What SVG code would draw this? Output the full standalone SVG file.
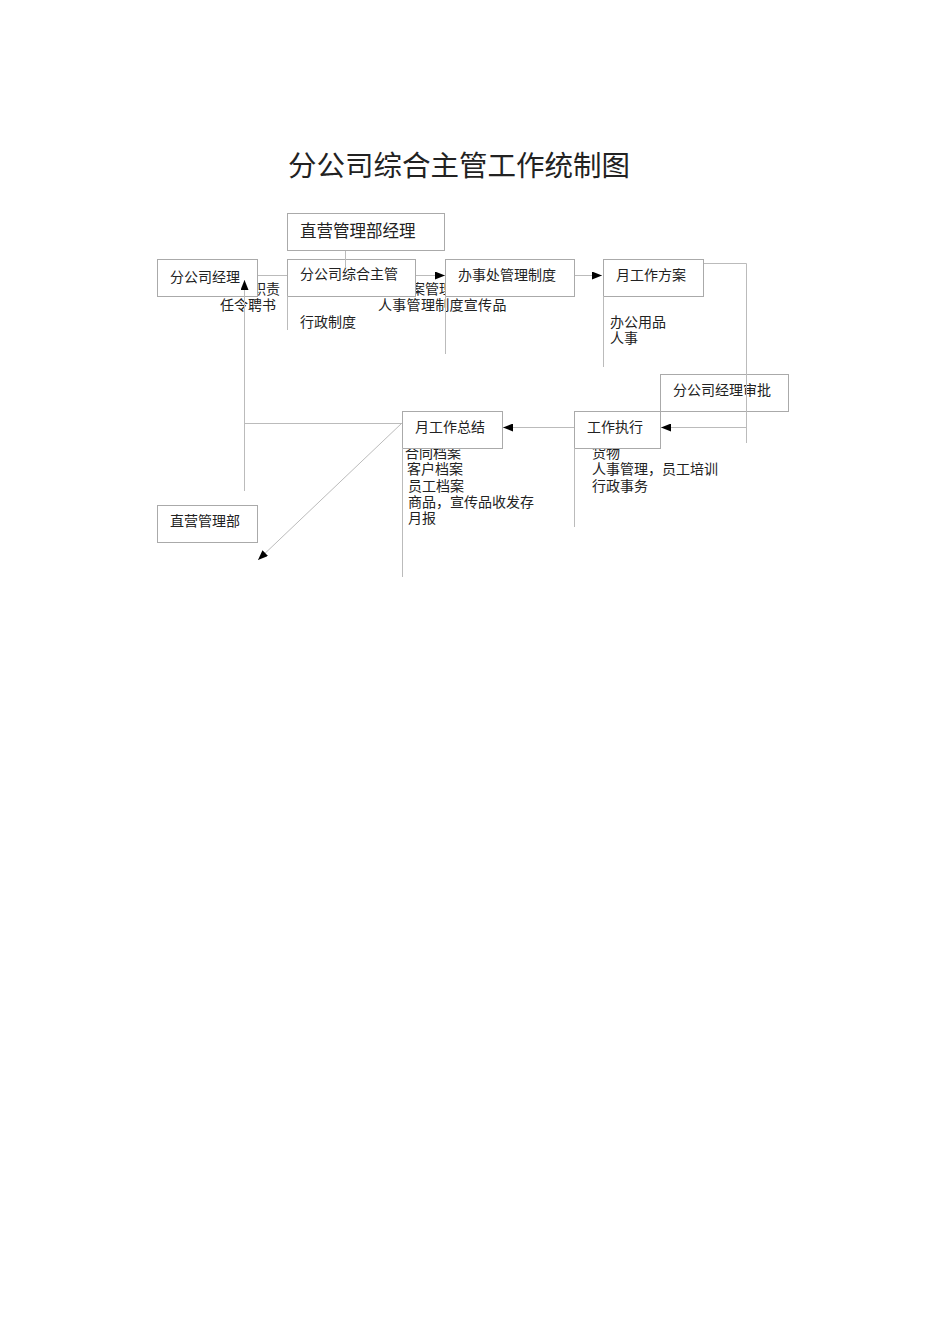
<svg xmlns="http://www.w3.org/2000/svg" width="950" height="1344" viewBox="0 0 950 1344">
<style>
text{font-family:"Noto Sans CJK SC","Noto Sans CJK JP",sans-serif;fill:#222;}
.t{font-size:14px;}
.box{fill:#fff;stroke:#aaa;stroke-width:1;}
.ln{stroke:#bbb;stroke-width:1;fill:none;}
</style>
<defs>
<marker id="ah" markerUnits="userSpaceOnUse" markerWidth="10" markerHeight="8" refX="10" refY="4" orient="auto">
<path d="M0,0 L10,4 L0,8 Z" fill="#000"/>
</marker>
</defs>
<rect width="950" height="1344" fill="#fff"/>
<text x="288" y="176" font-size="28.5">分公司综合主管工作统制图</text>
<g id="labels" class="t">
<text x="252" y="294">职责</text>
<text x="220" y="310">任令聘书</text>
<text x="300" y="327">行政制度</text>
<text x="397" y="294">档案管理</text>
<text x="378" y="310" letter-spacing="0.3">人事管理制度宣传品</text>
<text x="610" y="327">办公用品</text>
<text x="610" y="343">人事</text>
<text x="405" y="458">合同档案</text>
<text x="407" y="474">客户档案</text>
<text x="408" y="491">员工档案</text>
<text x="408" y="507">商品，宣传品收发存</text>
<text x="408" y="523">月报</text>
<text x="592" y="458">货物</text>
<text x="592" y="474">人事管理，员工培训</text>
<text x="592" y="491">行政事务</text>
</g>
<g id="n1"><rect class="box" x="287.5" y="213.5" width="157" height="37"/><text x="300" y="237" font-size="16.5">直营管理部经理</text></g>
<g id="n2"><rect class="box" x="157.5" y="259.5" width="100" height="37"/><text class="t" x="170" y="282" font-size="14.5">分公司经理</text></g>
<g id="n3"><rect class="box" x="287.5" y="259.5" width="128" height="37"/><text class="t" x="300" y="279">分公司综合主管</text></g>
<g id="n4"><rect class="box" x="445.5" y="259.5" width="129" height="37"/><text class="t" x="458" y="280">办事处管理制度</text></g>
<g id="n5"><rect class="box" x="603.5" y="259.5" width="100" height="37"/><text class="t" x="616" y="280">月工作方案</text></g>
<g id="n6"><rect class="box" x="660.5" y="374.5" width="128" height="37"/><text class="t" x="673" y="395">分公司经理审批</text></g>
<g id="n7"><rect class="box" x="574.5" y="411.5" width="86" height="37"/><text class="t" x="587" y="432">工作执行</text></g>
<g id="n8"><rect class="box" x="402.5" y="411.5" width="100" height="37"/><text class="t" x="415" y="432">月工作总结</text></g>
<g id="n9"><rect class="box" x="157.5" y="505.5" width="100" height="37"/><text class="t" x="170" y="526">直营管理部</text></g>
<g id="connectors">
<line class="ln" x1="345.5" y1="251" x2="345.5" y2="268"/>
<line class="ln" x1="258" y1="275.5" x2="287" y2="275.5"/>
<line class="ln" x1="416" y1="275.5" x2="445" y2="275.5" marker-end="url(#ah)"/>
<line class="ln" x1="575" y1="275.5" x2="602" y2="275.5" marker-end="url(#ah)"/>
<polyline class="ln" points="704,263.5 746.5,263.5 746.5,443"/>
<line class="ln" x1="746" y1="427.5" x2="661" y2="427.5" marker-end="url(#ah)"/>
<line class="ln" x1="574" y1="427.5" x2="503" y2="427.5" marker-end="url(#ah)"/>
<line class="ln" x1="402" y1="423.5" x2="244.5" y2="423.5"/>
<line class="ln" x1="244.5" y1="491" x2="244.5" y2="280" marker-end="url(#ah)"/>
<line class="ln" x1="402" y1="423" x2="258" y2="560" marker-end="url(#ah)"/>
<line class="ln" x1="287.5" y1="296" x2="287.5" y2="330"/>
<line class="ln" x1="445.5" y1="296" x2="445.5" y2="354"/>
<line class="ln" x1="603.5" y1="296" x2="603.5" y2="367"/>
<line class="ln" x1="402.5" y1="448" x2="402.5" y2="577"/>
<line class="ln" x1="574.5" y1="448" x2="574.5" y2="527"/>
</g>
</svg>
